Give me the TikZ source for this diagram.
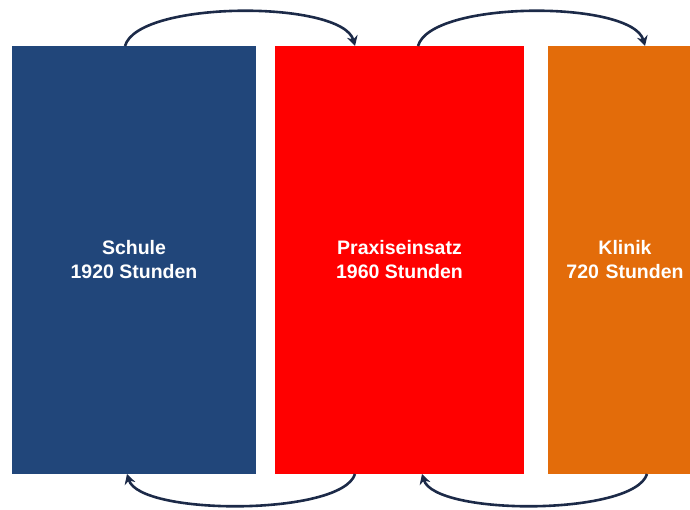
\documentclass[tikz,border=0pt]{standalone}
\usepackage{fontspec}
\setmainfont{Liberation Sans}
\usetikzlibrary{arrows.meta,calc}
\definecolor{cblue}{HTML}{21467A}
\definecolor{cred}{HTML}{FF0000}
\definecolor{corange}{HTML}{E36C0A}
\definecolor{carrow}{HTML}{1C2A48}
\begin{document}
\begin{tikzpicture}[x=1pt,y=-1pt,
  box/.style={draw=none,fill=#1,minimum height=428pt,inner sep=0pt,
    text=white,font=\bfseries\fontsize{19.5}{24}\selectfont,align=center},
  loop/.style={draw=carrow,line width=2.6pt,-{Stealth[length=10pt,width=11pt]}}]
\useasboundingbox (0,0) rectangle (690,509);
\begin{scope}
\clip (0,0) rectangle (690,509);
\node[box=cblue,minimum width=244pt] (schule) at (134,260) {Schule\\1920 Stunden};
\node[box=cred,minimum width=249pt] (praxis) at (399.5,260) {Praxiseinsatz\\1960 Stunden};
\node[box=corange,minimum width=154pt,text width=154pt] (klinik) at (625,260) {Klinik\\720 Stunden};
\end{scope}
\coordinate (t1) at (125,46);
\coordinate (t2) at (355,46);
\coordinate (t3) at (418,46);
\coordinate (t4) at (645,46);
\coordinate (b1) at (127,474);
\coordinate (b2) at (355,474);
\coordinate (b3) at (422,474);
\coordinate (b4) at (647,474);
\draw[loop] (t1) .. controls (138,0) and (342,0) .. (t2);
\draw[loop] (t3) .. controls (431,0) and (632,0) .. (t4);
\draw[loop] (b2) .. controls (342,516) and (140,516) .. (b1);
\draw[loop] (b4) .. controls (634,516) and (435,516) .. (b3);
\end{tikzpicture}
\end{document}
